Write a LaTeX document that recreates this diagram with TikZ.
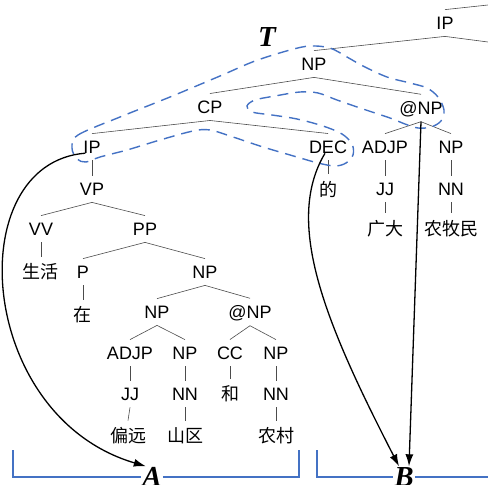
\documentclass[tikz,border=0pt]{standalone}
\usepackage{fontspec}
\newfontfamily\tagfont{Liberation Sans}
\newfontfamily\cjk{Noto Sans CJK SC}
\newfontfamily\lblfont{Liberation Serif}
\usetikzlibrary{arrows.meta}
\definecolor{tblue}{RGB}{68,114,196}

\begin{document}
\begin{tikzpicture}[x=1pt,y=1pt,yscale=-1,xscale=1,
        cat/.style={font=\tagfont\fontsize{18}{20}\selectfont, inner sep=7pt, text depth=0pt},
        word/.style={font=\cjk\fontsize{18}{20}\selectfont, inner sep=7pt},
        branch/.style={draw=black!70, line width=0.6pt},
        seglabel/.style={font=\lblfont\bfseries\itshape\fontsize{29}{30}\selectfont, inner sep=1pt, text depth=0pt},
        tdash/.style={draw=tblue, line width=1.4pt, dash pattern=on 11pt off 7pt},
        bracket/.style={draw=tblue, line width=1.4pt},
        link/.style={draw=black, line width=1.3pt, -{Latex[length=12pt,width=8pt]}}]
        \useasboundingbox (0,0) rectangle (488,485);
        %Upper part of the tree
        \node[cat] (IPtop) at (445,23) {IP};
        \node[cat] (NPt) at (314,64) {NP};
        \node[cat] (CP) at (210,107) {CP};
        \node[cat] (atNPt) at (421,108) {@NP};
        \node[cat] (IPl) at (92,147) {IP};
        \node[cat] (DEC) at (328,147) {DEC};
        \node[cat] (ADJPr) at (385,147) {ADJP};
        \node[cat] (NPr) at (451,147) {NP};
        \node[word] (de) at (328,189) {的};
        \node[cat] (JJr) at (385,189) {JJ};
        \node[cat] (NNr) at (451,189) {NN};
        \node[word] (guangda) at (385,229) {广大};
        \node[word] (nongmumin) at (451,229) {农牧民};
        %Lower part of the tree
        \node[cat] (VP) at (92,189) {VP};
        \node[cat] (VV) at (41,229) {VV};
        \node[cat] (PP) at (145,229) {PP};
        \node[word] (shenghuo) at (41,272) {生活};
        \node[cat] (P) at (83,272) {P};
        \node[cat] (NPm) at (205,272) {NP};
        \node[word] (zai) at (83,315) {在};
        \node[cat] (NPa) at (157,312) {NP};
        \node[cat] (atNPb) at (250,312) {@NP};
        \node[cat] (ADJPa) at (130,353) {ADJP};
        \node[cat] (NPb) at (185,353) {NP};
        \node[cat] (CC) at (230,353) {CC};
        \node[cat] (NPc) at (276,353) {NP};
        \node[cat] (JJa) at (130,394) {JJ};
        \node[cat] (NNb) at (185,394) {NN};
        \node[word] (he) at (230,394) {和};
        \node[cat] (NNc) at (276,394) {NN};
        \node[word] (pianyuan) at (128,436) {偏远};
        \node[word] (shanqu) at (185,436) {山区};
        \node[word] (nongcun) at (276,436) {农村};
        %Free ends at the picture border
        \coordinate (upEdge) at (488,5);
        \coordinate (rightEdge) at (488,42);
        %Tree edges
        \draw[branch] (IPtop.north) -- (upEdge);
        \draw[branch] (IPtop.south) -- (rightEdge);
        \draw[branch] (IPtop.south) -- (NPt.north);
        \draw[branch] (NPt.south) -- (CP.north);
        \draw[branch] (NPt.south) -- (atNPt.north);
        \draw[branch] (CP.south) -- (IPl.north);
        \draw[branch] (CP.south) -- (DEC.north);
        \draw[branch] (atNPt.south) -- (ADJPr.north);
        \draw[branch] (atNPt.south) -- (NPr.north);
        \draw[branch] (DEC.south) -- (de.north);
        \draw[branch] (ADJPr.south) -- (JJr.north);
        \draw[branch] (NPr.south) -- (NNr.north);
        \draw[branch] (JJr.south) -- (guangda.north);
        \draw[branch] (NNr.south) -- (nongmumin.north);
        \draw[branch] (IPl.south) -- (VP.north);
        \draw[branch] (VP.south) -- (VV.north);
        \draw[branch] (VP.south) -- (PP.north);
        \draw[branch] (VV.south) -- (shenghuo.north);
        \draw[branch] (PP.south) -- (P.north);
        \draw[branch] (PP.south) -- (NPm.north);
        \draw[branch] (P.south) -- (zai.north);
        \draw[branch] (NPm.south) -- (NPa.north);
        \draw[branch] (NPm.south) -- (atNPb.north);
        \draw[branch] (NPa.south) -- (ADJPa.north);
        \draw[branch] (NPa.south) -- (NPb.north);
        \draw[branch] (atNPb.south) -- (CC.north);
        \draw[branch] (atNPb.south) -- (NPc.north);
        \draw[branch] (ADJPa.south) -- (JJa.north);
        \draw[branch] (NPb.south) -- (NNb.north);
        \draw[branch] (CC.south) -- (he.north);
        \draw[branch] (NPc.south) -- (NNc.north);
        \draw[branch] (JJa.south) -- (pianyuan.north);
        \draw[branch] (NNb.south) -- (shanqu.north);
        \draw[branch] (NNc.south) -- (nongcun.north);
        %Fragment T
        \node[seglabel] (T) at (267,37) {T};
        \draw[tdash] plot[smooth cycle, tension=0.55] coordinates {
            (72,148) (78,135) (120,117) (170,97) (220,76) (255,61) (290,50)
            (310,46) (330,48) (347,57) (363,66) (387,77) (410,83) (427,88)
            (438,97) (444,110) (441,121) (431,127) (418,128) (405,124)
            (390,118) (363,109) (337,100) (318,93) (300,92) (275,96)
            (255,100) (247,106) (252,112) (272,115) (297,119) (323,126)
            (342,134) (352,144) (353,155) (346,163) (335,166) (318,163)
            (297,157) (263,147) (233,137) (210,130) (193,131) (160,140)
            (127,150) (100,157) (86,162) (77,159)};
        %Segments A and B
        \node[seglabel] (A) at (152,477) {A};
        \node[seglabel] (B) at (404,477) {B};
        \coordinate (aL) at (13,450);
        \coordinate (aR) at (299,450);
        \coordinate (bL) at (317,450);
        \coordinate (bR) at (488,477);
        \draw[bracket] (aL) |- (A.west);
        \draw[bracket] (A.east) -| (aR);
        \draw[bracket] (bL) |- (B.west);
        \draw[bracket] (B.east) -- (bR);
        %Links
        \draw[link] ([xshift=9pt]IPl.base west) .. controls +(-125,10) and +(-170,-50) .. (A.120);
        \draw[link] ([xshift=-3pt]DEC.base) .. controls +(-42,70) and +(-72,-140) .. (B.115);
        \draw[link] (atNPt.south) -- (B.65);
    \end{tikzpicture}
\end{document}
